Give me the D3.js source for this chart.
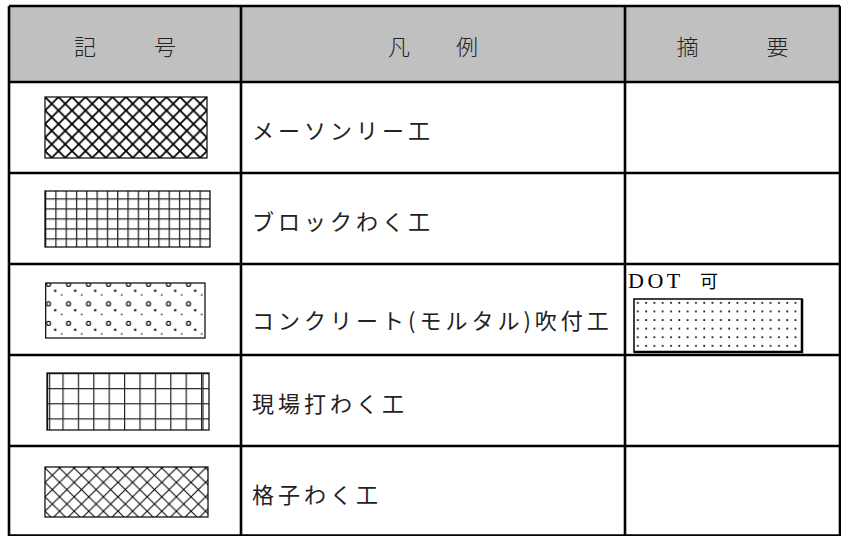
<!DOCTYPE html>
<html><head><meta charset="utf-8">
<script src="https://cdn.jsdelivr.net/npm/d3@7"></script>
<style>html,body{margin:0;padding:0;background:#fff;} svg{display:block;}</style>
</head><body><svg id="c" width="841" height="536"></svg>
<script>
// ---- data ----
const headers = [["記","号"],["凡","例"],["摘","要"]];
const headerOffsets = [[-40,40],[-34,34],[-45,45]];
const labels = ["メーソンリー工","ブロックわく工","コンクリート(モルタル)吹付工","現場打わく工","格子わく工"];
const patterns = ["diamondBold","gridSmall","circles","gridLarge","diamondThin"];
const notes = ["","","DOT 可","",""];
const columnEdges = [9, 241, 625, 840];

// ---- layout ----
const svg = d3.select("#c");
const headerTop = 6, headerBottom = 82, tableBottom = 537;
const y = d3.scaleBand().domain(d3.range(labels.length)).range([headerBottom, tableBottom]);
const colX = i => columnEdges[i];

const defs = svg.append("defs");
function pat(id, w, h, ox, oy) {
  return defs.append("pattern").attr("id", id).attr("patternUnits","userSpaceOnUse")
    .attr("width", w).attr("height", h).attr("x", ox).attr("y", oy);
}
let p = pat("diamondBold", 13.5, 13.5, 45, 97);
p.append("path").attr("d","M-2,-2L15.5,15.5M15.5,-2L-2,15.5").attr("stroke","#000").attr("stroke-width",1.8).attr("fill","none");
p = pat("diamondThin", 14.6, 14.4, 45, 468);
p.append("path").attr("d","M-2,-2L16.6,16.4M16.6,-2L-2,16.4").attr("stroke","#000").attr("stroke-width",1).attr("fill","none");
p = pat("gridSmall", 10.3, 10, 45, 198.3);
p.append("path").attr("d","M0.6,0V10M0,0.6H10.3").attr("stroke","#222").attr("stroke-width",1.3).attr("fill","none");
p = pat("gridLarge", 15.4, 15.1, 47, 373);
p.append("path").attr("d","M0.6,0V15.1M0,0.6H15.4").attr("stroke","#222").attr("stroke-width",1.2).attr("fill","none");
p = pat("circles", 20, 19.5, 45.7, 281);
p.append("circle").attr("cx",2.8).attr("cy",3.4).attr("r",2).attr("fill","none").attr("stroke","#000").attr("stroke-width",1.1);
p.append("circle").attr("cx",9.5).attr("cy",9.7).attr("r",1.2).attr("fill","#000");
p.append("circle").attr("cx",16).attr("cy",14).attr("r",0.8).attr("fill","#000");
p = pat("dots", 8.3, 8.6, 634, 299);
p.append("rect").attr("x",3).attr("y",3).attr("width",1.7).attr("height",1.7).attr("fill","#000");

const boxes = {
  diamondBold:{x:45,w:162,top:15,h:61},
  gridSmall:{x:45,w:165,top:18,h:56},
  circles:{x:45.7,w:159.3,top:19,h:55},
  gridLarge:{x:47,w:162,top:18,h:57},
  diamondThin:{x:45,w:163,top:21,h:50}
};
const textShift = [0,0,8,0,0];

svg.append("rect").attr("x",columnEdges[0]).attr("y",headerTop)
  .attr("width",columnEdges[3]-columnEdges[0]).attr("height",headerBottom-headerTop).attr("fill","#c0c0c0");

headers.forEach((chars,i)=>{
  const cx = (colX(i)+colX(i+1))/2;
  chars.forEach((ch,j)=>{
    svg.append("text").attr("x",cx+headerOffsets[i][j]).attr("y",(headerTop+headerBottom)/2+1)
      .attr("text-anchor","middle").attr("dominant-baseline","central")
      .attr("font-family","'Noto Sans CJK JP'").attr("font-weight",300).attr("font-size",22).attr("fill","#222").text(ch);
  });
});

const rows = svg.selectAll("g.row").data(labels).join("g").attr("class","row");
rows.each(function(d,i){
  const g = d3.select(this);
  const y0 = y(i);
  const b = boxes[patterns[i]];
  g.append("rect").attr("x",b.x).attr("y",y0+b.top).attr("width",b.w).attr("height",b.h)
    .attr("fill",`url(#${patterns[i]})`).attr("stroke","#000").attr("stroke-width",1.2);
  if (patterns[i]==="gridLarge") {
    g.append("path").attr("d",`M${b.x+2.7},${y0+b.top}V${y0+b.top+b.h}M${b.x+b.w-6},${y0+b.top}V${y0+b.top+b.h}`)
      .attr("stroke","#222").attr("stroke-width",1.1);
  }
  g.append("text").attr("x",colX(1)+11).attr("y",y0+y.bandwidth()/2+1+textShift[i])
    .attr("dominant-baseline","central")
    .attr("font-family","'Noto Sans CJK JP'").attr("font-size",22).attr("letter-spacing",4).attr("fill","#222").text(d);
  if (notes[i]) {
    const parts = notes[i].split(" ");
    g.append("text").attr("x",colX(2)+3).attr("y",y0+24)
      .attr("font-family","'Liberation Serif'").attr("font-size",22).attr("letter-spacing",3.5).attr("fill","#000")
      .text(parts[0]);
    g.append("text").attr("x",colX(2)+75).attr("y",y0+24)
      .attr("font-family","'Noto Sans CJK JP'").attr("font-size",18).attr("fill","#000").text(parts[1]);
    g.append("rect").attr("x",634).attr("y",y0+35).attr("width",168).attr("height",53)
      .attr("fill","url(#dots)").attr("stroke","#000").attr("stroke-width",1.5);
    g.append("path").attr("d",`M${634+168},${y0+35}V${y0+88}H634`).attr("stroke","#000").attr("stroke-width",2.5).attr("fill","none");
  }
});

const lw = 2.6;
const hLines = [headerTop, headerBottom].concat(d3.range(1,labels.length).map(i=>y(i))).concat([tableBottom-1.5]);
svg.selectAll("line.h").data(hLines).join("line").attr("class","h")
  .attr("x1",columnEdges[0]).attr("x2",columnEdges[3]).attr("y1",d=>d).attr("y2",d=>d)
  .attr("stroke","#000").attr("stroke-width",lw);
svg.selectAll("line.v").data(columnEdges).join("line").attr("class","v")
  .attr("x1",d=>d).attr("x2",d=>d).attr("y1",headerTop).attr("y2",tableBottom)
  .attr("stroke","#000").attr("stroke-width",lw);
</script></body></html>
